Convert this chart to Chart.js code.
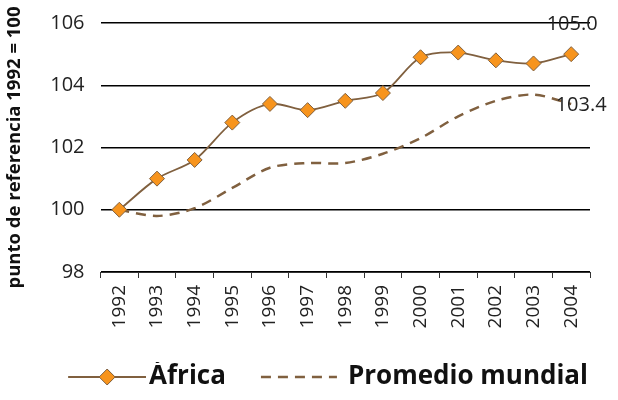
<!DOCTYPE html>
<html>
<head>
<meta charset="utf-8">
<script src="https://cdn.jsdelivr.net/npm/chart.js@4"></script>
<style>
  html, body { margin: 0; padding: 0; background: #fff; }
  #wrap { width: 618px; height: 400px; }
</style>
</head>
<body>
<div id="wrap"><canvas id="chart" width="618" height="400"></canvas></div>
<script>
const years = ["1992", "1993", "1994", "1995", "1996", "1997", "1998", "1999", "2000", "2001", "2002", "2003", "2004"];
const africa = [100.0, 101.0, 101.6, 102.8, 103.4, 103.2, 103.5, 103.75, 104.9, 105.05, 104.8, 104.7, 105.0];
const worldAverage = [100.0, 99.8, 100.05, 100.7, 101.35, 101.5, 101.5, 101.8, 102.3, 103.0, 103.5, 103.7, 103.4];
const endLabels = ["105.0", "103.4"];

const brown = "#80603f";
const orange = "#f7941d";
const fontFamily = "'Open Sans', 'Noto Sans', sans-serif";
const boxW = 107;
const overhang = 10;

// legend swatch, a bit wider than the legend box so it can hug the text
function legendIcon(dashed) {
  const c = document.createElement("canvas");
  c.width = boxW + 2 * overhang;
  c.height = 20;
  const g = c.getContext("2d");
  const end = dashed ? boxW + overhang + 2 : boxW + 2 * overhang;
  const start = end - (dashed ? 76 : 78);
  g.strokeStyle = brown;
  g.lineWidth = dashed ? 2.5 : 2;
  if (dashed) g.setLineDash([10, 7]);
  g.beginPath();
  g.moveTo(start, 10);
  g.lineTo(end, 10);
  g.stroke();
  if (!dashed) {
    const cx = (start + end) / 2;
    g.setLineDash([]);
    g.fillStyle = orange;
    g.lineWidth = 1;
    g.beginPath();
    g.moveTo(cx, 2);
    g.lineTo(cx + 8, 10);
    g.lineTo(cx, 18);
    g.lineTo(cx - 8, 10);
    g.closePath();
    g.fill();
    g.stroke();
  }
  return c;
}

const endLabelPlugin = {
  id: "endLabels",
  afterDatasetsDraw(chart) {
    const { ctx } = chart;
    ctx.save();
    ctx.font = "20px " + fontFamily;
    ctx.fillStyle = "#222";
    ctx.textBaseline = "middle";
    ctx.textAlign = "center";
    const a = chart.getDatasetMeta(0).data[years.length - 1];
    ctx.fillText(endLabels[0], a.x + 1, a.y - 30);
    const w = chart.getDatasetMeta(1).data[years.length - 1];
    ctx.fillText(endLabels[1], w.x + 10, w.y + 1);
    ctx.restore();
  },
};

new Chart(document.getElementById("chart"), {
  type: "line",
  data: {
    labels: years,
    datasets: [
      {
        label: "África",
        data: africa,
        borderColor: brown,
        borderWidth: 1.8,
        tension: 0.3,
        pointStyle: "rectRot",
        pointRadius: 7.5,
        pointBackgroundColor: orange,
        pointBorderColor: brown,
        pointBorderWidth: 1,
      },
      {
        label: "Promedio mundial",
        data: worldAverage,
        borderColor: brown,
        borderWidth: 2.5,
        borderDash: [10, 7],
        tension: 0.3,
        pointRadius: 0,
      },
    ],
  },
  options: {
    responsive: false,
    animation: false,
    layout: { padding: { left: 4, right: 28, top: 2, bottom: 0 } },
    plugins: {
      legend: {
        position: "bottom",
        align: "end",
        labels: {
          usePointStyle: true,
          pointStyleWidth: boxW,
          color: "#111",
          font: { family: fontFamily, size: 26, weight: "bold" },
          padding: 2,
          generateLabels: (chart) =>
            chart.data.datasets.map((ds, i) => ({
              text: ds.label,
              pointStyle: legendIcon(i === 1),
              fillStyle: "transparent",
              strokeStyle: "transparent",
              lineWidth: 0,
              datasetIndex: i,
              fontColor: "#111",
            })),
        },
      },
      tooltip: { enabled: false },
    },
    scales: {
      x: {
        offset: true,
        afterFit: (scale) => { scale.height = 90; },
        grid: {
          display: true,
          offset: true,
          drawOnChartArea: false,
          tickLength: 6,
          color: "#333",
        },
        border: { display: true, color: "#333", width: 1 },
        ticks: {
          maxRotation: 90,
          minRotation: 90,
          color: "#222",
          padding: 7,
          font: { family: fontFamily, size: 19 },
        },
      },
      y: {
        min: 98,
        max: 106,
        afterFit: (scale) => { scale.paddingTop = 23; },
        ticks: {
          stepSize: 2,
          color: "#222",
          padding: 16,
          font: { family: fontFamily, size: 20 },
        },
        grid: { color: "#000", lineWidth: 1.5, drawTicks: false },
        border: { display: false },
        title: {
          display: true,
          text: "punto de referencia 1992 = 100",
          color: "#111",
          font: { family: fontFamily, size: 18.5, weight: "bold" },
          padding: { top: 0, bottom: 8 },
        },
      },
    },
  },
  plugins: [endLabelPlugin],
});
</script>
</body>
</html>
